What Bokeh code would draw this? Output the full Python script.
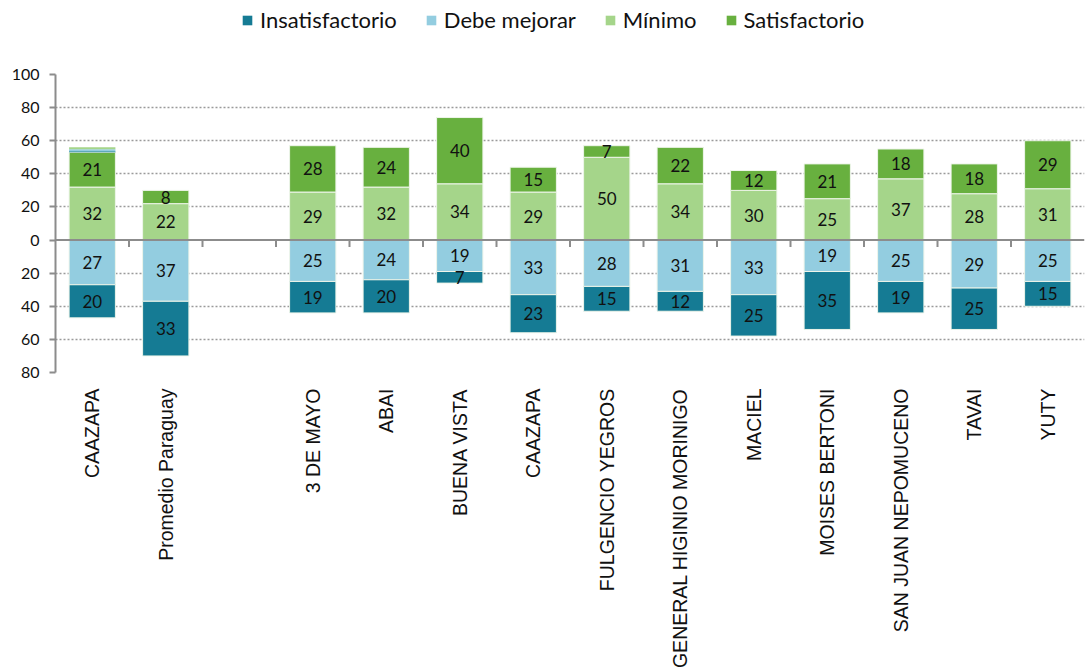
import math
from bokeh.plotting import figure
from bokeh.layouts import column
from bokeh.models import (ColumnDataSource, FixedTicker, Legend, LegendItem,
                          Span, Range1d)
from bokeh.core.properties import value
from bokeh.embed import file_html
from bokeh.resources import INLINE

categories = ["CAAZAPA", "Promedio Paraguay", "", "3 DE MAYO", "ABAI", "BUENA VISTA",
              "CAAZAPA", "FULGENCIO YEGROS", "GENERAL HIGINIO MORINIGO", "MACIEL",
              "MOISES BERTONI", "SAN JUAN NEPOMUCENO", "TAVAI", "YUTY"]
insatisfactorio = [20, 33, 0, 19, 20, 7, 23, 15, 12, 25, 35, 19, 25, 15]
debe_mejorar = [27, 37, 0, 25, 24, 19, 33, 28, 31, 33, 19, 25, 29, 25]
minimo = [32, 22, 0, 29, 32, 34, 29, 50, 34, 30, 25, 37, 28, 31]
satisfactorio = [21, 8, 0, 28, 24, 40, 15, 7, 22, 12, 21, 18, 18, 29]
# thin slivers stacked on top of the first bar
extra_insat = [0.6, 0, 0, 0, 0, 0, 0, 0, 0, 0, 0, 0, 0, 0]
extra_debe = [1.2, 0, 0, 0, 0, 0, 0, 0, 0, 0, 0, 0, 0, 0]
extra_min = [1.3, 0, 0, 0, 0, 0, 0, 0, 0, 0, 0, 0, 0, 0]
y_ticks = [-80, -60, -40, -20, 0, 20, 40, 60, 80, 100]
series_names = ["Insatisfactorio", "Debe mejorar", "Mínimo", "Satisfactorio"]

C_INS = "#157b94"
C_DEB = "#93cde0"
C_MIN = "#a5d58a"
C_SAT = "#68b03f"
colors = [C_INS, C_DEB, C_MIN, C_SAT]
FONT = "Lato"
XFONT = "Liberation Sans"

x = list(range(len(categories)))

p = figure(width=1088, height=613, output_backend="svg",
           toolbar_location=None, x_range=Range1d(-0.5, 13.5),
           y_range=Range1d(-80, 100), min_border_left=55, min_border_right=4,
           min_border_top=16, min_border_bottom=299)
p.outline_line_color = None
p.background_fill_color = "white"

# stacks
m_top = [m for m in minimo]
s_top = [m + s for m, s in zip(minimo, satisfactorio)]
d_bot = [-d for d in debe_mejorar]
i_bot = [-(d + i) for d, i in zip(debe_mejorar, insatisfactorio)]
e1_top = [t + e for t, e in zip(s_top, extra_insat)]
e2_top = [t + e for t, e in zip(e1_top, extra_debe)]
e3_top = [t + e for t, e in zip(e2_top, extra_min)]

W = 0.63
lc = "#eef5ea"
p.vbar(x=x, bottom=0, top=m_top, width=W, fill_color=C_MIN, line_color=lc, line_width=1)
p.vbar(x=x, bottom=m_top, top=s_top, width=W, fill_color=C_SAT, line_color=lc, line_width=1)
p.vbar(x=x, top=0, bottom=d_bot, width=W, fill_color=C_DEB, line_color=lc, line_width=1)
p.vbar(x=x, top=d_bot, bottom=i_bot, width=W, fill_color=C_INS, line_color=lc, line_width=1)
ex = [xx for xx, e in zip(x, extra_insat) if e > 0]
if ex:
    p.vbar(x=ex, bottom=[s_top[i] for i in ex], top=[e1_top[i] for i in ex], width=W,
           fill_color=C_INS, line_color=None)
    p.vbar(x=ex, bottom=[e1_top[i] for i in ex], top=[e2_top[i] for i in ex], width=W,
           fill_color=C_DEB, line_color=None)
    p.vbar(x=ex, bottom=[e2_top[i] for i in ex], top=[e3_top[i] for i in ex], width=W,
           fill_color=C_MIN, line_color=None)

# labels
lx, ly, lt = [], [], []
for i in x:
    if minimo[i]:
        lx.append(i); ly.append(minimo[i] / 2); lt.append(str(minimo[i]))
    if satisfactorio[i]:
        lx.append(i); ly.append(minimo[i] + satisfactorio[i] / 2); lt.append(str(satisfactorio[i]))
    if debe_mejorar[i]:
        lx.append(i); ly.append(-debe_mejorar[i] / 2); lt.append(str(debe_mejorar[i]))
    if insatisfactorio[i]:
        lx.append(i); ly.append(-debe_mejorar[i] - insatisfactorio[i] / 2); lt.append(str(insatisfactorio[i]))
src = ColumnDataSource(dict(x=lx, y=ly, t=lt))
p.text(x="x", y="y", text="t", source=src, text_align="center", text_baseline="middle",
       text_font=value(FONT), text_font_size="17px", text_color="#111111")

# zero line and its ticks
p.add_layout(Span(location=0, dimension="width", line_color="#8c8c8c", line_width=2))
tx = [i + 0.5 for i in x[:-1]]
p.segment(x0=tx, y0=[0] * len(tx), x1=tx, y1=[-4.2] * len(tx), line_color="#8c8c8c", line_width=2)

# axes
p.xaxis.ticker = FixedTicker(ticks=x)
p.xaxis.major_label_overrides = {i: c for i, c in zip(x, categories)}
p.xaxis.major_label_orientation = math.pi / 2
p.xaxis.axis_line_color = None
p.xaxis.major_tick_line_color = None
p.xaxis.minor_tick_line_color = None
p.xaxis.major_label_text_font = XFONT
p.xaxis.major_label_text_font_size = "19.5px"
p.xaxis.major_label_text_color = "#111111"
p.xaxis.major_label_standoff = 10

p.yaxis.ticker = FixedTicker(ticks=y_ticks)
p.yaxis.major_label_overrides = {t: str(abs(t)) for t in y_ticks}
p.yaxis.axis_line_color = "#8c8c8c"
p.yaxis.axis_line_width = 2
p.yaxis.major_tick_line_color = "#8c8c8c"
p.yaxis.major_tick_line_width = 2
p.yaxis.major_tick_out = 6
p.yaxis.major_tick_in = 0
p.yaxis.minor_tick_line_color = None
p.yaxis.major_label_text_font = FONT
p.yaxis.major_label_text_font_size = "16px"
p.yaxis.major_label_text_color = "#111111"
p.yaxis.major_label_standoff = 10

p.xgrid.grid_line_color = None
p.ygrid.ticker = FixedTicker(ticks=[t for t in y_ticks if t != 0])
p.ygrid.grid_line_color = "#9a9a9a"
p.ygrid.grid_line_dash = "2 2"
p.ygrid.grid_line_width = 1.5

# legend strip (proxy glyphs lie outside the visible range)
lg = figure(width=1088, height=58, output_backend="svg", toolbar_location=None,
            x_range=Range1d(0, 1), y_range=Range1d(0, 1), min_border=0,
            x_axis_location=None, y_axis_location=None)
lg.outline_line_color = None
lg.xgrid.grid_line_color = None
lg.ygrid.grid_line_color = None
items = []
for name, col in zip(series_names, colors):
    r = lg.vbar(x=[-5], bottom=[-5], top=[-4], width=0.5, fill_color=col, line_color=None)
    items.append(LegendItem(label=name, renderers=[r]))
legend = Legend(items=items, orientation="horizontal", location=(186, 25),
                label_text_font=FONT, label_text_font_size="22px",
                label_text_color="#111111", glyph_width=12, glyph_height=12,
                spacing=28, label_standoff=7, padding=0, margin=0,
                border_line_color=None, background_fill_alpha=0)
lg.add_layout(legend)

layout = column(lg, p, spacing=0)
open("out.html", "w").write(file_html(layout, INLINE))
